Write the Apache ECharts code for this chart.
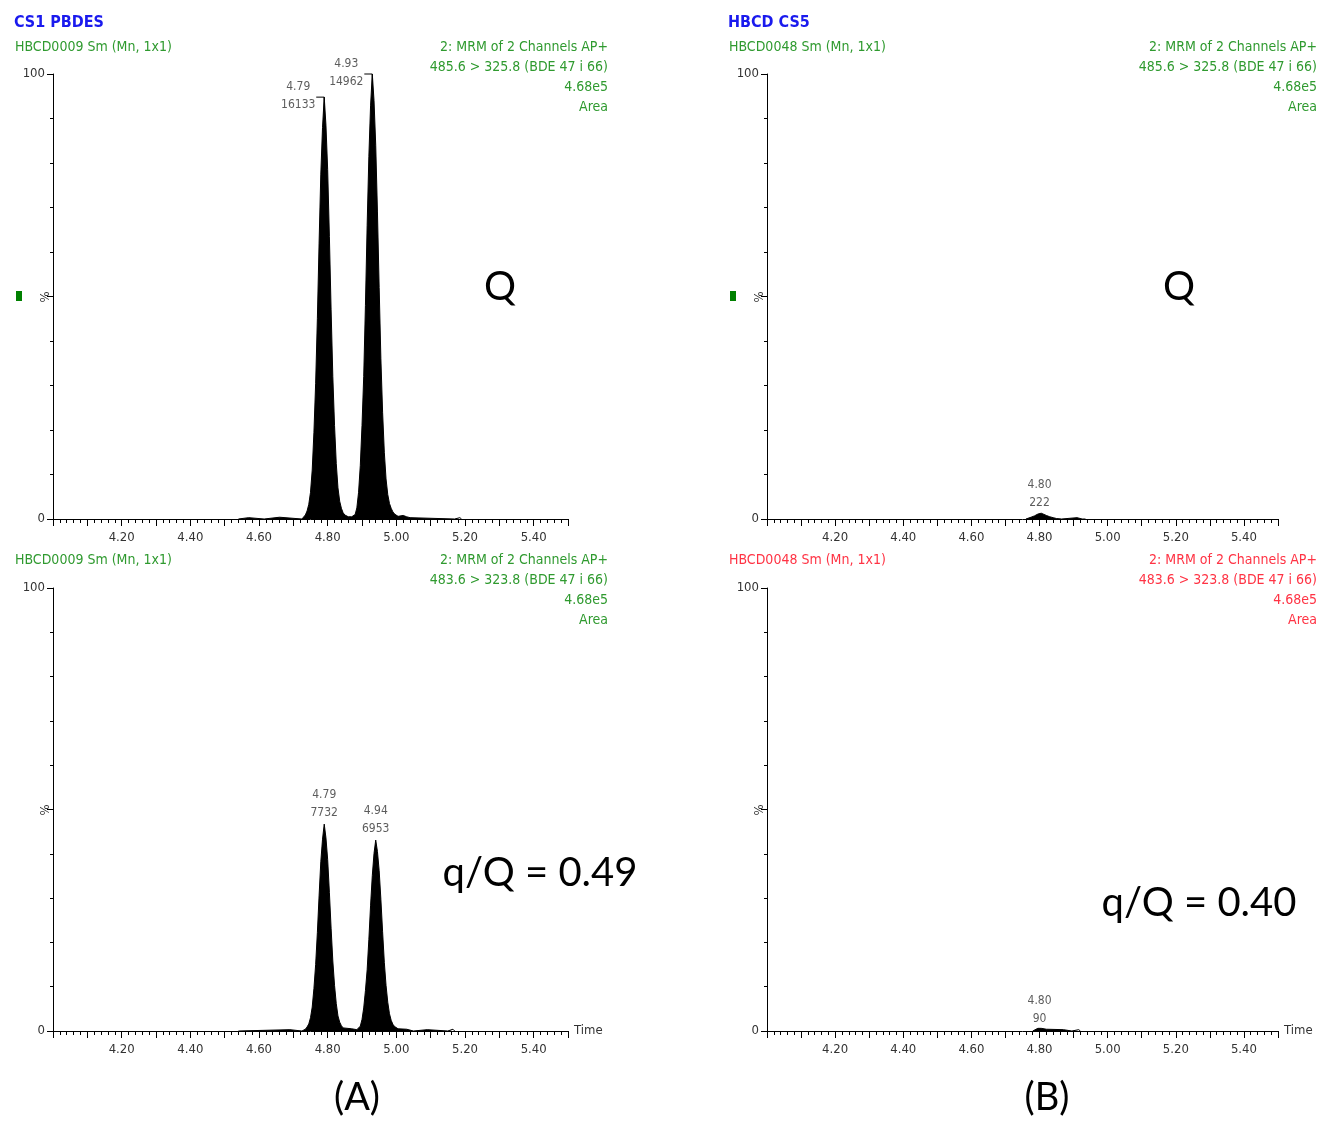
<!DOCTYPE html>
<html>
<head>
<meta charset="utf-8">
<script src="https://cdn.jsdelivr.net/npm/echarts@6/dist/echarts.min.js"></script>
<style>html,body{margin:0;padding:0;background:#fff;}#c{width:1318px;height:1122px;}</style>
</head>
<body>
<div id="c"></div>
<script>
// ---------- data ----------
const xTickLabels = ['4.20','4.40','4.60','4.80','5.00','5.20','5.40'];
const yTickLabels = ['0','100'];

// Panel A, quantifier (485.6 > 325.8)
const tAQ = [4.54,4.545,4.57,4.575,4.615,4.62,4.66,4.665,4.725,4.730,4.735,4.740,4.745,4.750,4.755,4.760,4.765,4.770,4.775,4.780,4.785,4.790,4.795,4.800,4.805,4.810,4.815,4.820,4.825,4.830,4.835,4.840,4.845,4.850,4.855,4.860,4.865,4.870,4.875,4.880,4.885,4.890,4.895,4.900,4.905,4.910,4.915,4.920,4.925,4.930,4.935,4.940,4.945,4.950,4.955,4.960,4.965,4.970,4.975,4.980,4.985,4.990,4.995,5.000,5.005,5.010,5.020,5.030,5.040,5.045,5.170,5.175,5.185,5.190];
const yAQ = [0,0.3,0.3,0,0,0.4,0.4,0,0,0.4,0.9,1.8,3.3,6.0,11.0,19.5,30.5,45.0,62.0,77.5,88.0,94.8,88.5,78.5,63.5,47.0,32.0,21.0,12.5,7.0,4.0,2.4,1.4,0.9,0.6,0.5,0.5,0.5,0.6,1.0,2.5,6.0,12.0,21.0,32.0,48.0,66.0,81.5,93.0,100,94.0,84.0,69.0,52.0,36.0,24.0,15.0,9.0,5.5,3.5,2.4,1.6,1.1,0.8,0.6,0.7,0.8,0.5,0.3,0,0,0.3,0.3,0];

// Panel A, qualifier (483.6 > 323.8)
const tAq = [4.54,4.545,4.69,4.695,4.725,4.730,4.735,4.740,4.745,4.750,4.755,4.760,4.765,4.770,4.775,4.780,4.785,4.790,4.795,4.800,4.805,4.810,4.815,4.820,4.825,4.830,4.835,4.840,4.845,4.850,4.870,4.875,4.885,4.890,4.895,4.900,4.905,4.910,4.915,4.920,4.925,4.930,4.935,4.940,4.945,4.950,4.955,4.960,4.965,4.970,4.975,4.980,4.985,4.990,4.995,5.000,5.005,5.010,5.030,5.035,5.050,5.055,5.090,5.095,5.150,5.155,5.165,5.170];
const yAq = [0,0.3,0.3,0,0,0.2,0.4,0.9,1.6,3.0,5.4,9.6,15.0,22.2,30.5,38.2,43.3,46.7,43.6,38.7,31.3,23.2,15.8,10.3,6.2,3.4,2.0,1.2,0.7,0.5,0.5,0.3,0.3,0.4,1.1,2.6,5.2,9.1,13.8,20.7,28.4,35.1,40.1,43.1,40.5,36.2,29.7,22.4,15.5,10.3,6.5,3.9,2.4,1.5,1.0,0.7,0.5,0.4,0.4,0,0,0.3,0.3,0,0,0.4,0.4,0];

// Panel B, quantifier
const tBQ = [4.76,4.765,4.775,4.785,4.795,4.800,4.805,4.810,4.820,4.830,4.840,4.850,4.855,4.865,4.870,4.910,4.915,4.925,4.930,4.935];
const yBQ = [0,0.2,0.4,0.7,1.1,1.3,1.3,1.1,0.8,0.5,0.3,0.1,0,0,0.3,0.3,0,0,0.2,0];

// Panel B, qualifier
const tBq = [4.78,4.785,4.795,4.800,4.805,4.810,4.820,4.870,4.875,4.895,4.900,4.915,4.920];
const yBq = [0,0.3,0.6,0.6,0.6,0.4,0.4,0.3,0,0,0.3,0.3,0];

// peak annotations: retention time, height (%), area
const pkAQ_rt = ['4.79','4.93'];  const pkAQ_h = [94.8,100];  const pkAQ_area = ['16133','14962'];
const pkAq_rt = ['4.79','4.94'];  const pkAq_h = [46.7,43.1];  const pkAq_area = ['7732','6953'];
const pkBQ_rt = ['4.80'];         const pkBQ_h = [1.3];        const pkBQ_area = ['222'];
const pkBq_rt = ['4.80'];         const pkBq_h = [0.6];        const pkBq_area = ['90'];

// ---------- chart ----------
const FN = "'Liberation Sans Narrow','Arial Narrow','DejaVu Sans Condensed','Roboto Condensed','Liberation Sans',sans-serif";
const GREEN = '#2f9a2f', RED = '#ff3344', BLUE = '#1a1aee';

const grids = [
  {left:53,  top:74,  width:515, height:445},
  {left:53,  top:588, width:515, height:443},
  {left:767, top:74,  width:511, height:445},
  {left:767, top:588, width:511, height:443}
];

function xAx(i, withName){
  return {
    type:'value', gridIndex:i, min:4.0, max:5.5, interval:0.1,
    name: withName ? 'Time' : '', nameLocation:'end', nameGap:6,
    nameTextStyle:{color:'#333', fontSize:13, fontFamily:FN, verticalAlign:'middle'},
    axisLine:{show:true, onZero:false, lineStyle:{color:'#000', width:1}},
    axisTick:{show:true, length:7, lineStyle:{color:'#000', width:1}},
    minorTick:{show:true, splitNumber:5, length:4, lineStyle:{color:'#000', width:1}},
    splitLine:{show:false}, minorSplitLine:{show:false},
    axisLabel:{show:true, margin:12, color:'#333', fontSize:13, fontFamily:FN,
      showMinLabel:true, showMaxLabel:true,
      formatter:v=>{const s=(Math.round(v*100)/100).toFixed(2); return xTickLabels.includes(s)?s:'';}}
  };
}
function yAx(i){
  return {
    type:'value', gridIndex:i, min:0, max:100, interval:50,
    axisLine:{show:true, lineStyle:{color:'#000', width:1}},
    axisTick:{show:true, length:6, lineStyle:{color:'#000', width:1}},
    minorTick:{show:true, splitNumber:5, length:3, lineStyle:{color:'#000', width:1}},
    splitLine:{show:false}, minorSplitLine:{show:false},
    axisLabel:{show:true, margin:8, color:'#333', fontSize:13, fontFamily:FN,
      formatter:v=>{const s=String(Math.round(v)); return yTickLabels.includes(s)?s:'';}}
  };
}
function trace(i, t, y){
  return {type:'line', xAxisIndex:i, yAxisIndex:i, data:t.map((v,k)=>[v,y[k]]),
    showSymbol:false, symbol:'none', smooth:false, silent:true,
    lineStyle:{color:'#000', width:1}, areaStyle:{color:'#000', opacity:1}, z:2};
}
function peaks(i, rt, h, area, dx, dy){
  return {type:'scatter', xAxisIndex:i, yAxisIndex:i, symbolSize:0, silent:true, z:5,
    data:rt.map((r,k)=>[parseFloat(r), h[k], area[k]]),
    label:{show:true, position:'inside', offset:[dx,dy], align:'center', verticalAlign:'middle',
      color:'#333', fontSize:12, fontFamily:FN, lineHeight:18,
      formatter:p=>p.value[0].toFixed(2)+'\n'+p.value[2]}};
}
function brackets(i, rt, h){
  return {type:'custom', xAxisIndex:i, yAxisIndex:i, silent:true, z:6,
    data:rt.map((r,k)=>[parseFloat(r), h[k]]),
    renderItem:(params, api)=>{
      const p = api.coord([api.value(0), api.value(1)]);
      return {type:'polyline', shape:{points:[[p[0]-8,p[1]],[p[0],p[1]],[p[0],p[1]+18]]},
        style:{stroke:'#000', lineWidth:1, fill:null}};
    }};
}
function txt(x,y,text,color,size,align,weight,family,rot){
  return {type:'text', x:x, y:y, rotation:rot||0, silent:true,
    style:{text:text, fill:color, font:(weight||'normal')+' '+size+'px '+(family||FN),
      textAlign:align||'left', textVerticalAlign:'middle'}};
}
const BIG = "Lato,'Open Sans','Noto Sans',sans-serif";

const graphic = [
  txt(14,23,'CS1 PBDES',BLUE,16,'left','bold'),
  txt(15,47,'HBCD0009 Sm (Mn, 1x1)',GREEN,14),
  txt(608,47,'2: MRM of 2 Channels AP+',GREEN,14,'right'),
  txt(608,67,'485.6 > 325.8 (BDE 47 i 66)',GREEN,14,'right'),
  txt(608,87,'4.68e5',GREEN,14,'right'),
  txt(608,107,'Area',GREEN,14,'right'),
  txt(15,560,'HBCD0009 Sm (Mn, 1x1)',GREEN,14),
  txt(608,560,'2: MRM of 2 Channels AP+',GREEN,14,'right'),
  txt(608,580,'483.6 > 323.8 (BDE 47 i 66)',GREEN,14,'right'),
  txt(608,600,'4.68e5',GREEN,14,'right'),
  txt(608,620,'Area',GREEN,14,'right'),

  txt(728,23,'HBCD CS5',BLUE,16,'left','bold'),
  txt(729,47,'HBCD0048 Sm (Mn, 1x1)',GREEN,14),
  txt(1317,47,'2: MRM of 2 Channels AP+',GREEN,14,'right'),
  txt(1317,67,'485.6 > 325.8 (BDE 47 i 66)',GREEN,14,'right'),
  txt(1317,87,'4.68e5',GREEN,14,'right'),
  txt(1317,107,'Area',GREEN,14,'right'),
  txt(729,560,'HBCD0048 Sm (Mn, 1x1)',RED,14),
  txt(1317,560,'2: MRM of 2 Channels AP+',RED,14,'right'),
  txt(1317,580,'483.6 > 323.8 (BDE 47 i 66)',RED,14,'right'),
  txt(1317,600,'4.68e5',RED,14,'right'),
  txt(1317,620,'Area',RED,14,'right'),

  txt(46,297,'%','#333',13,'center','normal',FN,Math.PI/2),
  txt(46,810,'%','#333',13,'center','normal',FN,Math.PI/2),
  txt(760,297,'%','#333',13,'center','normal',FN,Math.PI/2),
  txt(760,810,'%','#333',13,'center','normal',FN,Math.PI/2),

  {type:'rect', shape:{x:16,y:291,width:6,height:10}, style:{fill:'#008000'}, silent:true},
  {type:'rect', shape:{x:730,y:291,width:6,height:10}, style:{fill:'#008000'}, silent:true},

  txt(500,287,'Q','#000',40,'center','normal',BIG),
  txt(1179,287,'Q','#000',40,'center','normal',BIG),
  txt(540,873,'q/Q = 0.49','#000',40,'center','normal',BIG),
  txt(1199,903,'q/Q = 0.40','#000',40,'center','normal',BIG),
  txt(357,1098,'(A)','#000',38,'center','normal',BIG),
  txt(1047,1098,'(B)','#000',38,'center','normal',BIG)
];

const chart = echarts.init(document.getElementById('c'), null, {renderer:'canvas'});
chart.setOption({
  animation:false,
  backgroundColor:'#fff',
  grid:grids,
  xAxis:[xAx(0,false), xAx(1,true), xAx(2,false), xAx(3,true)],
  yAxis:[yAx(0), yAx(1), yAx(2), yAx(3)],
  series:[
    trace(0,tAQ,yAQ), trace(1,tAq,yAq), trace(2,tBQ,yBQ), trace(3,tBq,yBq),
    peaks(0,pkAQ_rt,pkAQ_h,pkAQ_area,-26,-1),
    brackets(0,pkAQ_rt,pkAQ_h),
    peaks(1,pkAq_rt,pkAq_h,pkAq_area,0,-20),
    peaks(2,pkBQ_rt,pkBQ_h,pkBQ_area,0,-19),
    peaks(3,pkBq_rt,pkBq_h,pkBq_area,0,-18)
  ],
  graphic:graphic
});
</script>
</body>
</html>
